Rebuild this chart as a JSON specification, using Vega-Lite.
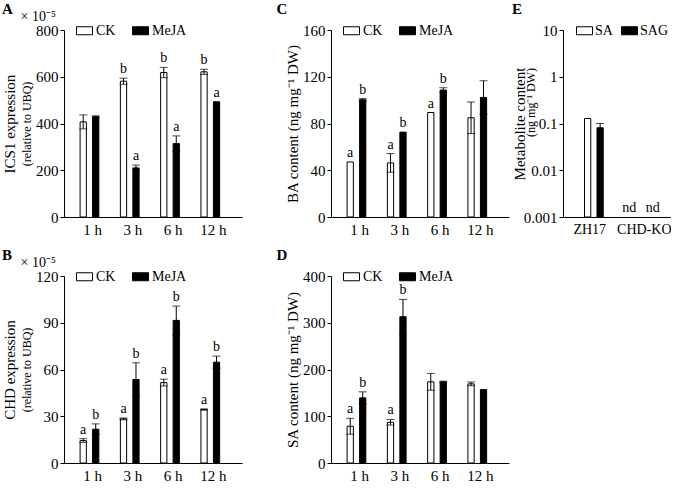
{
  "$schema": "https://vega.github.io/schema/vega-lite/v6.json",
  "padding": {"left": 2, "top": 2, "right": 0, "bottom": 0},
  "datasets": {
    "ics1": [
      {"time": "1 h", "trt": "CK", "mean": 407, "lo": 377, "hi": 437, "sig": ""},
      {"time": "1 h", "trt": "MeJA", "mean": 429, "lo": 425, "hi": 433, "sig": ""},
      {"time": "3 h", "trt": "CK", "mean": 581, "lo": 568, "hi": 594, "sig": "b"},
      {"time": "3 h", "trt": "MeJA", "mean": 210, "lo": 198, "hi": 222, "sig": "a"},
      {"time": "6 h", "trt": "CK", "mean": 618, "lo": 596, "hi": 640, "sig": "b"},
      {"time": "6 h", "trt": "MeJA", "mean": 314, "lo": 281, "hi": 347, "sig": "a"},
      {"time": "12 h", "trt": "CK", "mean": 621, "lo": 610, "hi": 632, "sig": "b"},
      {"time": "12 h", "trt": "MeJA", "mean": 493, "lo": 493, "hi": 493, "sig": "a"}
    ],
    "chd": [
      {"time": "1 h", "trt": "CK", "mean": 14.4, "lo": 13.2, "hi": 15.6, "sig": "a"},
      {"time": "1 h", "trt": "MeJA", "mean": 21.7, "lo": 18.3, "hi": 25.1, "sig": "b"},
      {"time": "3 h", "trt": "CK", "mean": 28.3, "lo": 27.7, "hi": 28.9, "sig": "a"},
      {"time": "3 h", "trt": "MeJA", "mean": 53.6, "lo": 42.9, "hi": 64.3, "sig": "b"},
      {"time": "6 h", "trt": "CK", "mean": 51.6, "lo": 49.4, "hi": 53.8, "sig": "a"},
      {"time": "6 h", "trt": "MeJA", "mean": 91.5, "lo": 82.3, "hi": 100.7, "sig": "b"},
      {"time": "12 h", "trt": "CK", "mean": 34.3, "lo": 33.9, "hi": 34.7, "sig": "a"},
      {"time": "12 h", "trt": "MeJA", "mean": 64.7, "lo": 60.8, "hi": 68.6, "sig": "b"}
    ],
    "ba": [
      {"time": "1 h", "trt": "CK", "mean": 47.1, "lo": 47.1, "hi": 47.1, "sig": "a"},
      {"time": "1 h", "trt": "MeJA", "mean": 100.3, "lo": 99.3, "hi": 101.3, "sig": "b"},
      {"time": "3 h", "trt": "CK", "mean": 46.3, "lo": 38.3, "hi": 54.3, "sig": "a"},
      {"time": "3 h", "trt": "MeJA", "mean": 72.6, "lo": 72.6, "hi": 72.6, "sig": "b"},
      {"time": "6 h", "trt": "CK", "mean": 89.4, "lo": 89.4, "hi": 89.4, "sig": "a"},
      {"time": "6 h", "trt": "MeJA", "mean": 108.6, "lo": 106.6, "hi": 110.6, "sig": "b"},
      {"time": "12 h", "trt": "CK", "mean": 84.9, "lo": 71.4, "hi": 98.4, "sig": ""},
      {"time": "12 h", "trt": "MeJA", "mean": 102.3, "lo": 88, "hi": 116.6, "sig": ""}
    ],
    "sa": [
      {"time": "1 h", "trt": "CK", "mean": 78.6, "lo": 61.6, "hi": 95.6, "sig": "a"},
      {"time": "1 h", "trt": "MeJA", "mean": 139.3, "lo": 126.3, "hi": 152.3, "sig": "b"},
      {"time": "3 h", "trt": "CK", "mean": 87.1, "lo": 81.1, "hi": 93.1, "sig": "a"},
      {"time": "3 h", "trt": "MeJA", "mean": 312.9, "lo": 275.9, "hi": 349.9, "sig": "b"},
      {"time": "6 h", "trt": "CK", "mean": 173.6, "lo": 155.6, "hi": 191.6, "sig": ""},
      {"time": "6 h", "trt": "MeJA", "mean": 173.6, "lo": 172.1, "hi": 175.1, "sig": ""},
      {"time": "12 h", "trt": "CK", "mean": 169.3, "lo": 165.3, "hi": 173.3, "sig": ""},
      {"time": "12 h", "trt": "MeJA", "mean": 157, "lo": 157, "hi": 157, "sig": ""}
    ],
    "meta": [
      {"line": "ZH17", "trt": "SA", "mean": 0.128, "lo": 0.128, "hi": 0.128, "sig": ""},
      {"line": "ZH17", "trt": "SAG", "mean": 0.081, "lo": 0.062, "hi": 0.1, "sig": ""},
      {"line": "CHD-KO", "trt": "SA", "mean": null, "lo": null, "hi": null, "sig": "nd"},
      {"line": "CHD-KO", "trt": "SAG", "mean": null, "lo": null, "hi": null, "sig": "nd"}
    ]
  },
  "spacing": 3,
  "resolve": {"scale": {"color": "independent"}},
  "hconcat": [
    {
      "columns": 2,
      "spacing": {"row": 11, "column": 34},
      "resolve": {"scale": {"color": "independent"}},
      "concat": [
        {
          "title": {"text": "A", "offset": -8},
          "width": 178, "height": 187,
          "data": {"name": "ics1"},
          "encoding": {
            "x": {"field": "time", "type": "nominal", "sort": ["1 h", "3 h", "6 h", "12 h"], "scale": {"paddingInner": 0.38, "paddingOuter": 0.4}, "axis": {"title": null}},
            "xOffset": {"field": "trt", "type": "nominal", "sort": ["CK", "MeJA"], "scale": {"paddingInner": 0, "paddingOuter": 0}}
          },
          "layer": [
            {"mark": {"type": "bar", "stroke": "black", "strokeWidth": 1},
             "encoding": {
               "y": {"field": "mean", "type": "quantitative", "scale": {"domain": [0, 800], "nice": false}, "axis": {"values": [0, 200, 400, 600, 800], "title": "(relative to UBQ)", "titleFontSize": 12, "titlePadding": 2}},
               "color": {"field": "trt", "type": "nominal", "scale": {"domain": ["CK", "MeJA"], "range": ["white", "black"]}, "legend": {"orient": "none", "legendX": 12, "legendY": -8, "direction": "horizontal", "title": null}}
             }},
            {"transform": [{"filter": "datum.hi > datum.lo"}], "mark": {"type": "rule", "color": "black", "strokeWidth": 1},
             "encoding": {"y": {"field": "lo", "type": "quantitative", "scale": {"domain": [0, 800], "nice": false}, "axis": {"orient": "left", "labels": false, "ticks": false, "domain": false, "title": "ICS1 expression", "titlePadding": 47}}, "y2": {"field": "hi"}}},
            {"transform": [{"filter": "datum.hi > datum.lo"}], "mark": {"type": "tick", "color": "black", "size": 8, "thickness": 1},
             "encoding": {"y": {"field": "hi", "type": "quantitative", "scale": {"domain": [0, 800], "nice": false}, "axis": {"orient": "left", "labels": false, "ticks": false, "domain": false, "title": "× 10⁻⁵", "titleAngle": 0, "titleX": -44, "titleY": -14, "titleAlign": "left", "titleBaseline": "middle", "titleFontSize": 14}}}},
            {"transform": [{"filter": "datum.hi > datum.lo"}], "mark": {"type": "tick", "color": "black", "size": 8, "thickness": 1},
             "encoding": {"y": {"field": "lo", "type": "quantitative", "scale": {"domain": [0, 800], "nice": false}, "axis": null}}},
            {"transform": [{"filter": "datum.sig != ''"}], "mark": {"type": "text", "baseline": "bottom", "dy": -2, "fontSize": 14, "font": "Liberation Serif", "color": "black"},
             "encoding": {"y": {"field": "hi", "type": "quantitative", "scale": {"domain": [0, 800], "nice": false}, "axis": null}, "text": {"field": "sig"}}}
          ],
          "resolve": {"scale": {"y": "independent"}}
        },
        {
          "title": {"text": "C", "dx": -9, "offset": 5},
          "width": 178, "height": 187,
          "data": {"name": "ba"},
          "encoding": {
            "x": {"field": "time", "type": "nominal", "sort": ["1 h", "3 h", "6 h", "12 h"], "scale": {"paddingInner": 0.38, "paddingOuter": 0.4}, "axis": {"title": null}},
            "xOffset": {"field": "trt", "type": "nominal", "sort": ["CK", "MeJA"], "scale": {"paddingInner": 0, "paddingOuter": 0}}
          },
          "layer": [
            {"mark": {"type": "bar", "stroke": "black", "strokeWidth": 1},
             "encoding": {
               "y": {"field": "mean", "type": "quantitative", "scale": {"domain": [0, 160], "nice": false}, "axis": {"values": [0, 40, 80, 120, 160], "title": "BA content  (ng mg⁻¹ DW)", "titlePadding": 2}},
               "color": {"field": "trt", "type": "nominal", "scale": {"domain": ["CK", "MeJA"], "range": ["white", "black"]}, "legend": {"orient": "none", "legendX": 12, "legendY": -8, "direction": "horizontal", "title": null}}
             }},
            {"transform": [{"filter": "datum.hi > datum.lo"}], "mark": {"type": "rule", "color": "black", "strokeWidth": 1},
             "encoding": {"y": {"field": "lo", "type": "quantitative", "scale": {"domain": [0, 160], "nice": false}, "axis": null}, "y2": {"field": "hi"}}},
            {"transform": [{"filter": "datum.hi > datum.lo"}], "mark": {"type": "tick", "color": "black", "size": 8, "thickness": 1},
             "encoding": {"y": {"field": "hi", "type": "quantitative", "scale": {"domain": [0, 160], "nice": false}, "axis": null}}},
            {"transform": [{"filter": "datum.hi > datum.lo"}], "mark": {"type": "tick", "color": "black", "size": 8, "thickness": 1},
             "encoding": {"y": {"field": "lo", "type": "quantitative", "scale": {"domain": [0, 160], "nice": false}, "axis": null}}},
            {"transform": [{"filter": "datum.sig != ''"}], "mark": {"type": "text", "baseline": "bottom", "dy": -2, "fontSize": 14, "font": "Liberation Serif", "color": "black"},
             "encoding": {"y": {"field": "hi", "type": "quantitative", "scale": {"domain": [0, 160], "nice": false}, "axis": null}, "text": {"field": "sig"}}}
          ],
          "resolve": {"scale": {"y": "independent"}}
        },
        {
          "title": {"text": "B", "offset": -8},
          "width": 178, "height": 187,
          "data": {"name": "chd"},
          "encoding": {
            "x": {"field": "time", "type": "nominal", "sort": ["1 h", "3 h", "6 h", "12 h"], "scale": {"paddingInner": 0.38, "paddingOuter": 0.4}, "axis": {"title": null}},
            "xOffset": {"field": "trt", "type": "nominal", "sort": ["CK", "MeJA"], "scale": {"paddingInner": 0, "paddingOuter": 0}}
          },
          "layer": [
            {"mark": {"type": "bar", "stroke": "black", "strokeWidth": 1},
             "encoding": {
               "y": {"field": "mean", "type": "quantitative", "scale": {"domain": [0, 120], "nice": false}, "axis": {"values": [0, 30, 60, 90, 120], "title": "(relative to UBQ)", "titleFontSize": 12, "titlePadding": 2}},
               "color": {"field": "trt", "type": "nominal", "scale": {"domain": ["CK", "MeJA"], "range": ["white", "black"]}, "legend": {"orient": "none", "legendX": 12, "legendY": -8, "direction": "horizontal", "title": null}}
             }},
            {"transform": [{"filter": "datum.hi > datum.lo"}], "mark": {"type": "rule", "color": "black", "strokeWidth": 1},
             "encoding": {"y": {"field": "lo", "type": "quantitative", "scale": {"domain": [0, 120], "nice": false}, "axis": {"orient": "left", "labels": false, "ticks": false, "domain": false, "title": "CHD expression", "titlePadding": 47}}, "y2": {"field": "hi"}}},
            {"transform": [{"filter": "datum.hi > datum.lo"}], "mark": {"type": "tick", "color": "black", "size": 8, "thickness": 1},
             "encoding": {"y": {"field": "hi", "type": "quantitative", "scale": {"domain": [0, 120], "nice": false}, "axis": {"orient": "left", "labels": false, "ticks": false, "domain": false, "title": "× 10⁻⁵", "titleAngle": 0, "titleX": -44, "titleY": -14, "titleAlign": "left", "titleBaseline": "middle", "titleFontSize": 14}}}},
            {"transform": [{"filter": "datum.hi > datum.lo"}], "mark": {"type": "tick", "color": "black", "size": 8, "thickness": 1},
             "encoding": {"y": {"field": "lo", "type": "quantitative", "scale": {"domain": [0, 120], "nice": false}, "axis": null}}},
            {"transform": [{"filter": "datum.sig != ''"}], "mark": {"type": "text", "baseline": "bottom", "dy": -2, "fontSize": 14, "font": "Liberation Serif", "color": "black"},
             "encoding": {"y": {"field": "hi", "type": "quantitative", "scale": {"domain": [0, 120], "nice": false}, "axis": null}, "text": {"field": "sig"}}}
          ],
          "resolve": {"scale": {"y": "independent"}}
        },
        {
          "title": {"text": "D", "dx": -9, "offset": 5},
          "width": 178, "height": 187,
          "data": {"name": "sa"},
          "encoding": {
            "x": {"field": "time", "type": "nominal", "sort": ["1 h", "3 h", "6 h", "12 h"], "scale": {"paddingInner": 0.38, "paddingOuter": 0.4}, "axis": {"title": null}},
            "xOffset": {"field": "trt", "type": "nominal", "sort": ["CK", "MeJA"], "scale": {"paddingInner": 0, "paddingOuter": 0}}
          },
          "layer": [
            {"mark": {"type": "bar", "stroke": "black", "strokeWidth": 1},
             "encoding": {
               "y": {"field": "mean", "type": "quantitative", "scale": {"domain": [0, 400], "nice": false}, "axis": {"values": [0, 100, 200, 300, 400], "title": "SA content (ng mg⁻¹ DW)", "titlePadding": 2}},
               "color": {"field": "trt", "type": "nominal", "scale": {"domain": ["CK", "MeJA"], "range": ["white", "black"]}, "legend": {"orient": "none", "legendX": 12, "legendY": -8, "direction": "horizontal", "title": null}}
             }},
            {"transform": [{"filter": "datum.hi > datum.lo"}], "mark": {"type": "rule", "color": "black", "strokeWidth": 1},
             "encoding": {"y": {"field": "lo", "type": "quantitative", "scale": {"domain": [0, 400], "nice": false}, "axis": null}, "y2": {"field": "hi"}}},
            {"transform": [{"filter": "datum.hi > datum.lo"}], "mark": {"type": "tick", "color": "black", "size": 8, "thickness": 1},
             "encoding": {"y": {"field": "hi", "type": "quantitative", "scale": {"domain": [0, 400], "nice": false}, "axis": null}}},
            {"transform": [{"filter": "datum.hi > datum.lo"}], "mark": {"type": "tick", "color": "black", "size": 8, "thickness": 1},
             "encoding": {"y": {"field": "lo", "type": "quantitative", "scale": {"domain": [0, 400], "nice": false}, "axis": null}}},
            {"transform": [{"filter": "datum.sig != ''"}], "mark": {"type": "text", "baseline": "bottom", "dy": -2, "fontSize": 14, "font": "Liberation Serif", "color": "black"},
             "encoding": {"y": {"field": "hi", "type": "quantitative", "scale": {"domain": [0, 400], "nice": false}, "axis": null}, "text": {"field": "sig"}}}
          ],
          "resolve": {"scale": {"y": "independent"}}
        }
      ]
    },
    {
      "title": {"text": "E", "dx": 0, "offset": 5},
      "width": 108, "height": 187,
      "data": {"name": "meta"},
      "encoding": {
        "x": {"field": "line", "type": "nominal", "sort": ["ZH17", "CHD-KO"], "scale": {"paddingInner": 0.58, "paddingOuter": 0.28}, "axis": {"title": null, "labelFontSize": 14}},
        "xOffset": {"field": "trt", "type": "nominal", "sort": ["SA", "SAG"], "scale": {"paddingInner": 0, "paddingOuter": 0}}
      },
      "layer": [
        {"transform": [{"filter": "isValid(datum.mean)"}], "mark": {"type": "bar", "stroke": "black", "strokeWidth": 1},
         "encoding": {
           "y": {"field": "mean", "type": "quantitative", "scale": {"type": "log", "domain": [0.001, 10], "nice": false}, "axis": {"values": [0.001, 0.01, 0.1, 1, 10], "format": "~g", "title": "(ng mg⁻¹ DW)", "titleFontSize": 12, "titleX": -26, "titleY": 72}},
           "y2": {"datum": 0.001},
           "color": {"field": "trt", "type": "nominal", "scale": {"domain": ["SA", "SAG"], "range": ["white", "black"]}, "legend": {"orient": "none", "legendX": 13, "legendY": -8, "direction": "horizontal", "title": null, "columnPadding": 6, "labelOffset": 2}}
         }},
        {"transform": [{"filter": "datum.hi > datum.lo"}], "mark": {"type": "rule", "color": "black", "strokeWidth": 1},
         "encoding": {"y": {"field": "lo", "type": "quantitative", "scale": {"type": "log", "domain": [0.001, 10], "nice": false}, "axis": {"orient": "left", "labels": false, "ticks": false, "domain": false, "title": "Metabolite content", "titlePadding": 36}}, "y2": {"field": "hi"}}},
        {"transform": [{"filter": "datum.hi > datum.lo"}], "mark": {"type": "tick", "color": "black", "size": 8, "thickness": 1},
         "encoding": {"y": {"field": "hi", "type": "quantitative", "scale": {"type": "log", "domain": [0.001, 10], "nice": false}, "axis": null}}},
        {"transform": [{"filter": "datum.sig == 'nd' && datum.trt == 'SA'"}], "mark": {"type": "text", "baseline": "bottom", "dy": -2, "dx": -13, "fontSize": 14, "font": "Liberation Serif", "color": "black"},
         "encoding": {"y": {"datum": 0.001, "type": "quantitative", "scale": {"type": "log", "domain": [0.001, 10], "nice": false}, "axis": null}, "text": {"field": "sig"}}},
        {"transform": [{"filter": "datum.sig == 'nd' && datum.trt == 'SAG'"}], "mark": {"type": "text", "baseline": "bottom", "dy": -2, "dx": -2, "fontSize": 14, "font": "Liberation Serif", "color": "black"},
         "encoding": {"y": {"datum": 0.001, "type": "quantitative", "scale": {"type": "log", "domain": [0.001, 10], "nice": false}, "axis": null}, "text": {"field": "sig"}}}
      ],
      "resolve": {"scale": {"y": "independent"}}
    }
  ],
  "config": {
    "view": {"stroke": null},
    "font": "Liberation Serif",
    "axis": {"grid": false, "domainColor": "black", "tickColor": "black", "labelColor": "black", "titleColor": "black", "labelFont": "Liberation Serif", "titleFont": "Liberation Serif", "labelFontSize": 15, "titleFontSize": 15, "titleFontWeight": "normal", "domainWidth": 1, "tickWidth": 1},
    "axisX": {"ticks": false, "labelAngle": 0, "labelPadding": 5},
    "axisY": {"tickSize": 4, "labelPadding": 2},
    "legend": {"labelFont": "Liberation Serif", "labelFontSize": 14, "labelColor": "black", "symbolType": "M-1,-0.5H1V0.5H-1Z", "symbolSize": 256, "symbolStrokeColor": "black", "symbolStrokeWidth": 1, "columnPadding": 14, "labelOffset": 3, "padding": 0},
    "title": {"font": "Liberation Serif", "fontSize": 15, "fontWeight": "bold", "anchor": "start", "color": "black"},
    "text": {"font": "Liberation Serif"}
  }
}
